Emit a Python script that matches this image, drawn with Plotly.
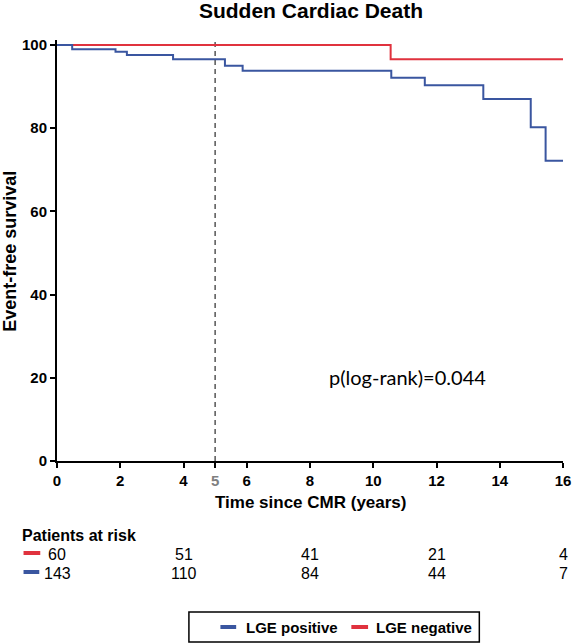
import plotly.graph_objects as go

# ---- data ----
pos_time = [0, 0.48, 1.85, 2.21, 3.67, 5.31, 5.87, 10.57, 11.63, 13.48, 14.98, 15.45, 16]
pos_surv = [100, 99.0, 98.4, 97.6, 96.6, 95.0, 93.8, 92.1, 90.3, 87.0, 80.2, 72.2, 72.2]
neg_time = [0, 10.55, 16]
neg_surv = [100, 96.6, 96.6]
risk_times = [0, 4, 8, 12, 16]
risk_neg = [60, 51, 41, 21, 4]
risk_pos = [143, 110, 84, 44, 7]
x_ticks = [0, 2, 4, 5, 6, 8, 10, 12, 14, 16]
y_ticks = [0, 20, 40, 60, 80, 100]
landmark = 5

RED = "#E0323E"
BLUE = "#3A56A0"
FONT = "Liberation Sans, Arial, sans-serif"

FW, FH = 580, 643

fig = go.Figure()
fig.add_trace(go.Scatter(x=neg_time, y=neg_surv, mode="lines", line=dict(color=RED, width=2, shape="hv"),
                         name="LGE negative", showlegend=False))
fig.add_trace(go.Scatter(x=pos_time, y=pos_surv, mode="lines", line=dict(color=BLUE, width=2, shape="hv"),
                         name="LGE positive", showlegend=False))

fig.add_shape(type="line", xref="x", yref="paper", x0=landmark, x1=landmark, y0=0, y1=1,
              line=dict(color="#555555", width=1.5, dash="5px,4px"), layer="below")

ticktext = [f"<span style='color:#808080'>{v}</span>" if v == landmark else str(v) for v in x_ticks]

# plot area in window px: x 57..571, y 40..461
L, R, T, B = 57, 571, 40, 461
W, H = R - L, B - T
def px(xp):
    return (xp - L) / W
def py(yp):
    return (B - yp) / H

fig.update_layout(
    width=FW, height=FH,
    margin=dict(l=L, r=FW - R, t=T, b=FH - B),
    paper_bgcolor="white", plot_bgcolor="white",
    font=dict(family=FONT, color="black"),
    title=dict(text="<b>Sudden Cardiac Death</b>", x=px(315), xref="paper", xanchor="center",
               y=1 - 11 / FH, yref="container", yanchor="middle", font=dict(size=21)),
    showlegend=False,
    xaxis=dict(range=[0, 16], tickvals=x_ticks, ticktext=ticktext, showgrid=False, zeroline=False,
               showline=True, linecolor="black", linewidth=2, ticks="outside", ticklen=5, tickwidth=2,
               tickcolor="black", tickfont=dict(size=15, family=FONT, weight="bold")),
    yaxis=dict(range=[0, 101.2], tickvals=y_ticks, showgrid=False, zeroline=False,
               showline=True, linecolor="black", linewidth=2, ticks="outside", ticklen=5, tickwidth=2,
               tickcolor="black", tickfont=dict(size=15, family=FONT, weight="bold")),
)

ann = []
ann.append(dict(text="<b>Event-free survival</b>", x=px(9), y=py(251), xref="paper", yref="paper",
                textangle=-90, showarrow=False, font=dict(size=18), xanchor="center", yanchor="middle"))
ann.append(dict(text="<b>Time since CMR (years)</b>", x=px(315), y=py(503), xref="paper", yref="paper",
                showarrow=False, font=dict(size=17), xanchor="center", yanchor="middle"))
ann.append(dict(text="p(log-rank)=0.044", x=px(413), y=py(377), xref="paper", yref="paper",
                showarrow=False, font=dict(size=20, family="Lato, Open Sans, sans-serif"),
                xanchor="center", yanchor="middle"))
ann.append(dict(text="<b>Patients at risk</b>", x=px(19), y=py(535), xref="paper", yref="paper",
                showarrow=False, font=dict(size=16), xanchor="left", yanchor="middle"))
for t, n in zip(risk_times, risk_neg):
    ann.append(dict(text=str(n), x=t, y=py(554), xref="x", yref="paper", showarrow=False,
                    font=dict(size=16), xanchor="center", yanchor="middle"))
for t, n in zip(risk_times, risk_pos):
    ann.append(dict(text=str(n), x=t, y=py(573), xref="x", yref="paper", showarrow=False,
                    font=dict(size=16), xanchor="center", yanchor="middle"))
fig.add_shape(type="line", xref="paper", yref="paper", x0=px(23), x1=px(40), y0=py(553), y1=py(553),
              line=dict(color=RED, width=4))
fig.add_shape(type="line", xref="paper", yref="paper", x0=px(23), x1=px(39), y0=py(572), y1=py(572),
              line=dict(color=BLUE, width=4))

# legend box
fig.add_shape(type="rect", xref="paper", yref="paper", x0=px(191), x1=px(486), y0=py(612), y1=py(642),
              line=dict(color="black", width=1.5), fillcolor="white")
fig.add_shape(type="line", xref="paper", yref="paper", x0=px(223), x1=px(239), y0=py(627), y1=py(627),
              line=dict(color=BLUE, width=4))
fig.add_shape(type="line", xref="paper", yref="paper", x0=px(356), x1=px(373), y0=py(627), y1=py(627),
              line=dict(color=RED, width=4))
ann.append(dict(text="<b>LGE positive</b>", x=px(247), y=py(627), xref="paper", yref="paper",
                showarrow=False, font=dict(size=15), xanchor="left", yanchor="middle"))
ann.append(dict(text="<b>LGE negative</b>", x=px(379), y=py(627), xref="paper", yref="paper",
                showarrow=False, font=dict(size=15), xanchor="left", yanchor="middle"))

fig.update_layout(annotations=ann)
fig.write_html("out.html", config={"displayModeBar": False},
               post_script="document.body.style.margin='0px';document.body.style.overflow='hidden';")
